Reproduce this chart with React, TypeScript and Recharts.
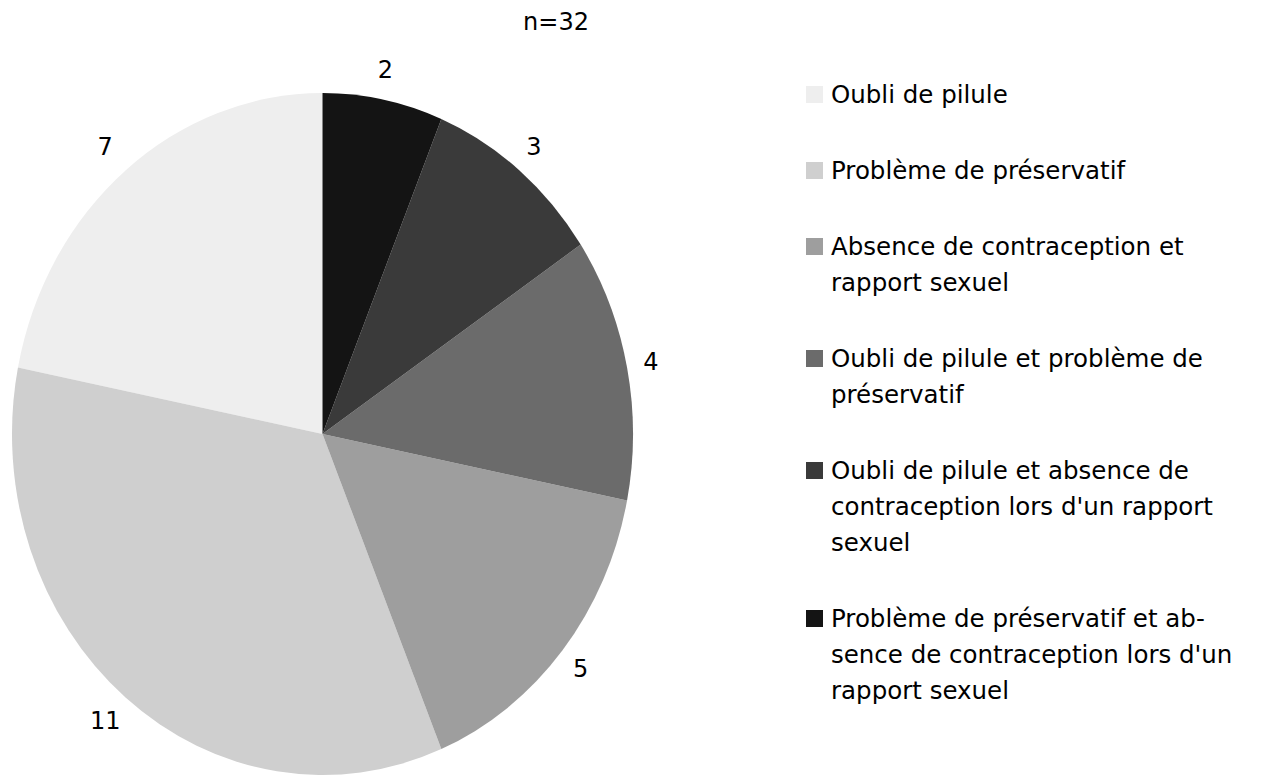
import { PieChart, Pie, Cell, Legend } from 'recharts';

const categories = [
  'Oubli de pilule',
  'Problème de préservatif',
  'Absence de contraception et\nrapport sexuel',
  'Oubli de pilule et problème de\npréservatif',
  "Oubli de pilule et absence de\ncontraception lors d'un rapport\nsexuel",
  "Problème de préservatif et ab-\nsence de contraception lors d'un\nrapport sexuel",
];
const counts = [7, 11, 5, 4, 3, 2];
const colors = ['#eeeeee', '#cfcfcf', '#9e9e9e', '#6b6b6b', '#3a3a3a', '#141414'];
const total = 32;

const FONT = '"DejaVu Sans", sans-serif';
const CX = 322.5;
const CY = 434;
const R = 341;
// the pie in the reference is slightly squeezed horizontally
const SX = 0.9106;

const data = categories.map((name, i) => ({ name, value: counts[i] }));

const RAD = Math.PI / 180;

function renderLabel(props: any) {
  const { cx, cy, midAngle, outerRadius, value } = props;
  const r = outerRadius + 30;
  const x = cx + r * Math.cos(-midAngle * RAD) * SX;
  const y = cy + r * Math.sin(-midAngle * RAD);
  return (
    <text
      x={x - 3}
      y={y}
      fill="#000"
      fontSize={24}
      fontFamily={FONT}
      textAnchor="middle"
      dominantBaseline="central"
    >
      {value}
    </text>
  );
}

// rendered from the arrays so the order stays the same as the data
function LegendContent() {
  return (
    <div style={{ fontFamily: FONT, fontSize: 24.5, color: '#000' }}>
      {categories.map((name, i) => (
        <div key={name} style={{ display: 'flex', alignItems: 'flex-start', marginBottom: 40 }}>
          <div
            style={{
              width: 17,
              height: 17,
              marginTop: 9,
              marginRight: 8,
              background: colors[i],
              flexShrink: 0,
            }}
          />
          <div style={{ lineHeight: '36px', whiteSpace: 'pre-line' }}>{name}</div>
        </div>
      ))}
    </div>
  );
}

export default function App() {
  return (
    <div style={{ position: 'absolute', left: 0, top: 0, width: 1262, height: 776, background: '#fff' }}>
      <div
        style={{
          position: 'absolute',
          left: 456,
          top: 4,
          width: 200,
          textAlign: 'center',
          fontFamily: FONT,
          fontSize: 24,
          lineHeight: '36px',
          color: '#000',
        }}
      >
        n={total}
      </div>
      <PieChart width={1262} height={776} margin={{ top: 0, right: 0, bottom: 0, left: 0 }}>
        <Pie
          data={data}
          dataKey="value"
          nameKey="name"
          cx={CX}
          cy={CY}
          outerRadius={R}
          startAngle={90}
          endAngle={450}
          stroke="none"
          label={renderLabel}
          labelLine={false}
          isAnimationActive={false}
        >
          {data.map((d, i) => (
            <Cell
              key={d.name}
              fill={colors[i]}
              transform={`translate(${CX * (1 - SX)} 0) scale(${SX} 1)`}
            />
          ))}
        </Pie>
        <Legend
          layout="vertical"
          align="right"
          verticalAlign="top"
          content={LegendContent}
          wrapperStyle={{ position: 'absolute', left: 806, top: 77, width: 450 }}
        />
      </PieChart>
    </div>
  );
}
